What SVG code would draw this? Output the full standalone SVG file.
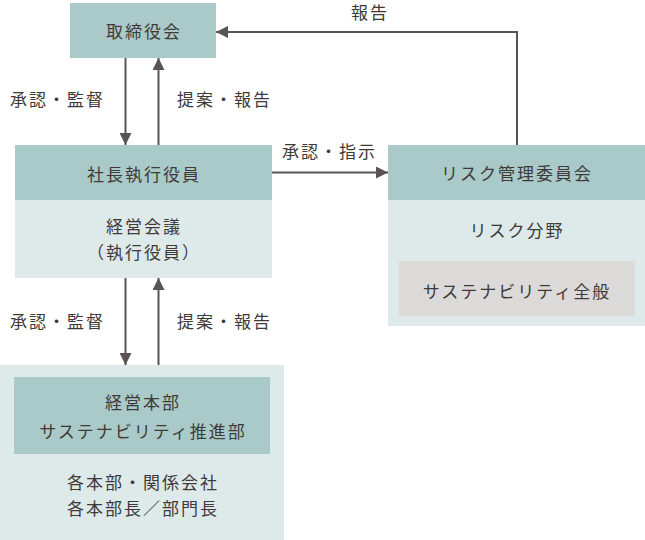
<svg xmlns="http://www.w3.org/2000/svg" width="645" height="540" viewBox="0 0 645 540">
<style>
text{font-family:"Noto Sans CJK JP","Noto Sans",sans-serif;font-size:17px;fill:#3e3a39;letter-spacing:2px}
.c{text-anchor:middle}
.dark{fill:#a9cac8}
.light{fill:#deeae9}
.gray{fill:#dcdad8}
.ln{stroke:#595351;stroke-width:2;fill:none}
</style>
<defs>
<marker id="ah" markerWidth="12" markerHeight="12" viewBox="0 0 12 12" refX="12" refY="6" orient="auto" markerUnits="userSpaceOnUse">
<path d="M0,0 L12,6 L0,12 Z" fill="#595351"/>
</marker>
</defs>
<g id="board">
<rect class="dark" x="70" y="3" width="146" height="55"/>
<text class="c" x="144" y="38">取締役会</text>
</g>
<g id="executive">
<rect class="dark" x="15" y="145" width="257" height="55"/>
<rect class="light" x="15" y="200" width="257" height="78"/>
<text class="c" x="144" y="181">社長執行役員</text>
<text class="c" x="144" y="233">経営会議</text>
<text class="c" x="144" y="259">（執行役員）</text>
</g>
<g id="risk">
<rect class="dark" x="388" y="145" width="257" height="55"/>
<rect class="light" x="388" y="200" width="257" height="126"/>
<rect class="gray" x="399" y="261" width="236" height="55"/>
<text class="c" x="517" y="180">リスク管理委員会</text>
<text class="c" x="517" y="237">リスク分野</text>
<text class="c" x="517" y="298">サステナビリティ全般</text>
</g>
<g id="divisions">
<rect class="light" x="0" y="365" width="284" height="175"/>
<rect class="dark" x="14" y="377" width="256" height="77"/>
<text class="c" x="143" y="409">経営本部</text>
<text class="c" x="143" y="438">サステナビリティ推進部</text>
<text class="c" x="143" y="489">各本部・関係会社</text>
<text class="c" x="143" y="515">各本部長／部門長</text>
</g>
<g id="connectors">
<line class="ln" x1="125.5" y1="58" x2="125.5" y2="145" marker-end="url(#ah)"/>
<line class="ln" x1="158.5" y1="145" x2="158.5" y2="58" marker-end="url(#ah)"/>
<line class="ln" x1="125.5" y1="278" x2="125.5" y2="365" marker-end="url(#ah)"/>
<line class="ln" x1="158.5" y1="365" x2="158.5" y2="278" marker-end="url(#ah)"/>
<line class="ln" x1="272" y1="172.5" x2="388" y2="172.5" marker-end="url(#ah)"/>
<polyline class="ln" points="517,145 517,32 216,32" marker-end="url(#ah)"/>
<text x="10" y="106">承認・監督</text>
<text x="177" y="106">提案・報告</text>
<text x="10" y="328">承認・監督</text>
<text x="177" y="328">提案・報告</text>
<text x="282" y="158">承認・指示</text>
<text x="351" y="19">報告</text>
</g>
</svg>
